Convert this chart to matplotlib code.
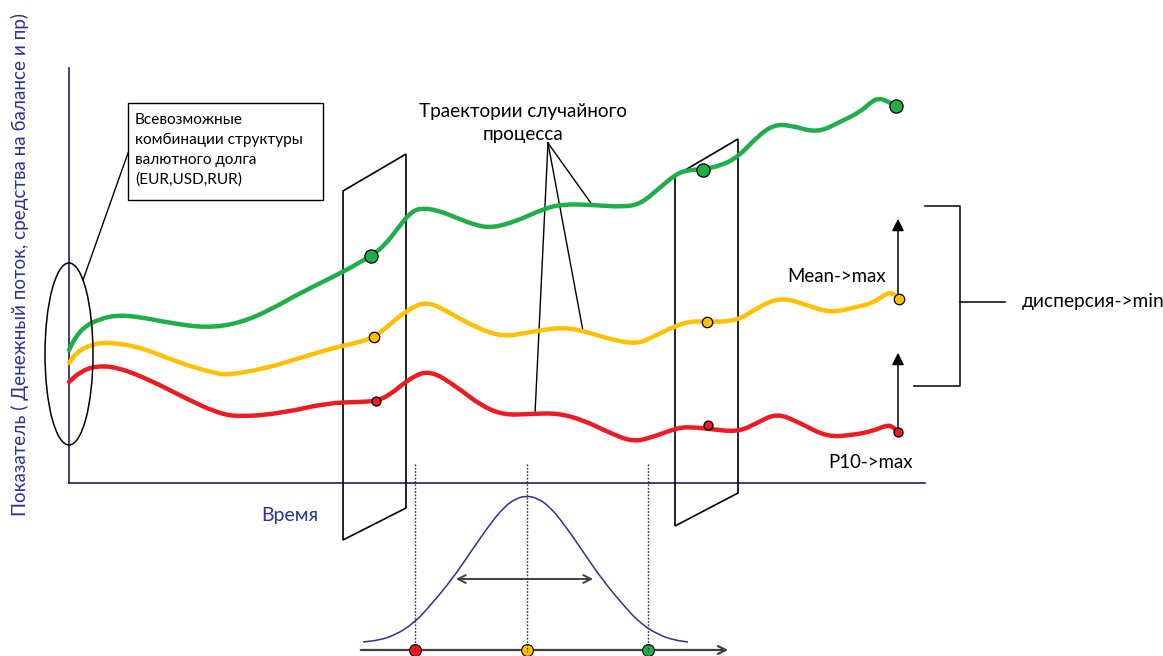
import matplotlib
matplotlib.use("Agg")
import matplotlib.pyplot as plt
from matplotlib.patches import Ellipse, Polygon, Rectangle, PathPatch
from matplotlib.path import Path

plt.rcParams['font.family'] = ['Lato', 'DejaVu Sans']

# trajectories (x = time, y = indicator; pixel-like units, y downwards)
green_x = [69, 75, 85, 100, 117, 140, 170, 207, 240, 270, 300, 343, 371, 385, 398, 410, 420, 437, 457,
           475, 492, 517, 543, 563, 593, 623, 640, 655, 677, 690, 703, 720, 738, 757, 773, 790, 817,
           840, 860, 870, 878, 887, 896]
green_y = [350, 338, 326, 319, 315, 317, 323, 328, 323, 310, 293, 272, 256, 245, 228, 213, 208, 210, 218,
           225, 228, 221, 209, 204, 205, 207, 204, 192, 173, 170, 169, 166, 157, 137, 125, 125, 133,
           122, 112, 103, 98, 101, 106]

yellow_x = [69, 77, 90, 107, 140, 177, 213, 230, 267, 300, 333, 360, 374, 387, 407, 427, 450, 477, 503,
            530, 563, 587, 613, 637, 653, 677, 693, 707, 737, 757, 780, 807, 830, 857, 873, 887, 893, 899]
yellow_y = [363, 352, 345, 342, 347, 362, 373, 375, 368, 358, 348, 342, 337, 327, 310, 301, 313, 328, 337,
            332, 327, 332, 340, 344, 337, 325, 321, 322, 321, 308, 297, 305, 313, 307, 303, 293, 293, 299]

red_x = [69, 80, 95, 117, 150, 183, 217, 240, 283, 327, 360, 376, 390, 410, 430, 457, 480, 503, 530,
         557, 583, 610, 633, 653, 677, 690, 710, 738, 757, 777, 800, 827, 853, 873, 887, 893, 898]
red_y = [382, 372, 366, 367, 380, 397, 413, 417, 413, 403, 402, 401, 395, 378, 370, 387, 405, 415, 414,
         413, 420, 433, 442, 437, 428, 427, 429, 432, 423, 413, 423, 437, 435, 431, 425, 427, 432]

# section points on the trajectories: (x, y) at cut 1, cut 2, end
green_pts = [(371, 256), (703, 170), (896, 106)]
yellow_pts = [(374, 337), (707, 322), (899, 299)]
red_pts = [(376, 401), (708, 425), (898, 432)]

# distribution sketch (bell curve)
bell_x = [363, 380, 395, 413, 430, 453, 470, 490, 505, 517, 527, 537, 549, 564, 584, 601, 624, 641, 659, 674, 688]
bell_y = [642, 640, 635, 624, 606, 578, 553, 524, 506, 498, 496, 498, 506, 524, 553, 578, 606, 624, 635, 640, 642]
quantile_x = [415, 527, 648]
quantile_colors = ['#ed1c24', '#ffc000', '#1fae4b']

GREEN = '#1fae4b'
YELLOW = '#ffc000'
RED = '#ed1c24'
NAVY = '#2e3192'
AXIS = '#1f2060'


def smooth_path(xs, ys):
    # quadratic bezier through the midpoints, read points used as control points
    pts = list(zip(xs, ys))
    verts = [pts[0], ((pts[0][0] + pts[1][0]) / 2, (pts[0][1] + pts[1][1]) / 2)]
    codes = [Path.MOVETO, Path.LINETO]
    for i in range(1, len(pts) - 1):
        mid = ((pts[i][0] + pts[i + 1][0]) / 2, (pts[i][1] + pts[i + 1][1]) / 2)
        verts += [pts[i], mid]
        codes += [Path.CURVE3, Path.CURVE3]
    verts.append(pts[-1])
    codes.append(Path.LINETO)
    return Path(verts, codes)


fig = plt.figure(figsize=(11.63, 6.56), dpi=100)
ax = fig.add_axes([0, 0, 1, 1])
ax.set_xlim(0, 1163)
ax.set_ylim(656, 0)
ax.axis('off')

# axes of the sketch
ax.plot([69, 69], [68, 483], color=AXIS, lw=1.2)
ax.plot([69, 925], [483, 483], color=AXIS, lw=1.2)
ax.text(20, 265, 'Показатель ( Денежный поток, средства на балансе и пр)', rotation=90,
        ha='center', va='center', color=NAVY, fontsize=13.6)
ax.text(290, 515, 'Время', ha='center', va='center', color=NAVY, fontsize=14)

# cross-section planes
for pts in ([(343, 191), (406, 154), (406, 508), (343, 540)],
            [(675, 176), (738, 139), (738, 493), (675, 526)]):
    ax.add_patch(Polygon(pts, closed=True, fill=False, edgecolor='black', lw=1.2, zorder=2))

# trajectories
for xs, ys, c in ((green_x, green_y, GREEN), (yellow_x, yellow_y, YELLOW), (red_x, red_y, RED)):
    ax.add_patch(PathPatch(smooth_path(xs, ys), fill=False, edgecolor=c, lw=3.2,
                           capstyle='round', joinstyle='round', zorder=3))

for pts, c, ms in ((green_pts, GREEN, 9.5), (yellow_pts, YELLOW, 7.5), (red_pts, RED, 6.5)):
    ax.plot([p[0] for p in pts], [p[1] for p in pts], 'o', color=c, ms=ms, mec='black', mew=0.9, zorder=5)

# ellipse with callout box
ax.add_patch(Ellipse((69, 354), 48, 182, fill=False, edgecolor='black', lw=1.1, zorder=4))
ax.plot([83, 128], [280, 153], color='black', lw=1)
ax.add_patch(Rectangle((128, 103), 195, 97, fill=False, edgecolor='black', lw=1))
ax.text(135, 113, 'Всевозможные\nкомбинации структуры\nвалютного долга\n(EUR,USD,RUR)',
        ha='left', va='top', fontsize=11.1, linespacing=1.52)

# trajectory labels
ax.text(523, 123, 'Траектории случайного\nпроцесса', ha='center', va='center', fontsize=13.6,
        linespacing=1.42)
for tx, ty in ((593, 206), (583, 331), (535, 414)):
    ax.plot([548, tx], [143, ty], color='black', lw=1)

# arrows and bracket on the right
ax.annotate('', xy=(898, 216), xytext=(898, 299),
            arrowprops=dict(arrowstyle='-|>', color='black', lw=1.1, mutation_scale=18))
ax.annotate('', xy=(898, 350), xytext=(898, 432),
            arrowprops=dict(arrowstyle='-|>', color='black', lw=1.1, mutation_scale=18))
ax.text(837, 277, 'Mean->max', ha='center', va='center', fontsize=13.4)
ax.text(870, 463, 'P10->max', ha='center', va='center', fontsize=13.4)
ax.plot([925, 960, 960, 914], [206, 206, 386, 386], color='black', lw=1.1)
ax.plot([960, 1005], [302, 302], color='black', lw=1.1)
ax.text(1022, 302, 'дисперсия->min', ha='left', va='center', fontsize=13.8)

# distribution at the bottom
ax.add_patch(PathPatch(smooth_path(bell_x, bell_y), fill=False, edgecolor=NAVY, lw=1.1))
ax.annotate('', xy=(731, 650), xytext=(358, 650),
            arrowprops=dict(arrowstyle='->', color='#404040', lw=1.6, mutation_scale=14))
ax.annotate('', xy=(453, 579), xytext=(596, 579),
            arrowprops=dict(arrowstyle='<->', color='#404040', lw=1.4, mutation_scale=14))
for qx, qc in zip(quantile_x, quantile_colors):
    ax.plot([qx], [650], 'o', color=qc, ms=8.5, mec='black', mew=0.8, zorder=5)
    ax.plot([qx, qx], [464, 652], color='#303030', lw=1, ls=(0, (1.2, 1.2)), zorder=6)

fig.savefig('out.png', dpi=100)
